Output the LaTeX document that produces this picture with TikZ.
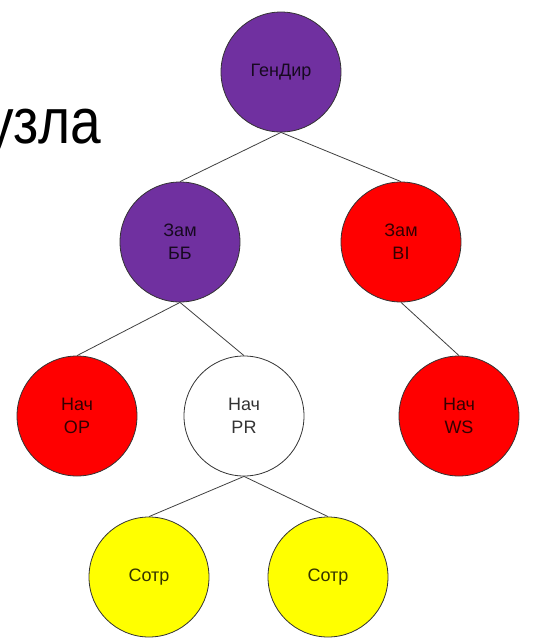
\documentclass[tikz,border=0pt]{standalone}
\usepackage{fontspec}
\setmainfont{Liberation Sans}
\begin{document}
\begin{tikzpicture}[x=1pt,y=-1pt,
  person/.style={circle, draw=black!80, line width=0.8pt, minimum size=120pt,
    inner sep=0pt, align=center, text=black, text opacity=0.8,
    font=\fontsize{18}{23}\selectfont},
  link/.style={draw=black!75, line width=0.8pt}]
\definecolor{violet}{HTML}{7030A0}
\definecolor{hot}{HTML}{FF0000}
\definecolor{lemon}{HTML}{FFFF00}
\useasboundingbox (0,0) rectangle (543,638);
% title fragment at the left edge
\node (title) [anchor=base west, inner sep=0pt, xscale=0.86,
  font=\fontsize{64}{70}\selectfont] at (-14,143) {узла};
% org chart
\node[person, fill=violet] (gd)  at (281,72)  {ГенДир};
\node[person, fill=violet] (zbb) at (180,242) {Зам\\ББ};
\node[person, fill=hot]    (zbi) at (401,242) {Зам\\BI};
\node[person, fill=hot]    (op)  at (77,416)  {Нач\\OP};
\node[person, fill=white]  (pr)  at (244,416) {Нач\\PR};
\node[person, fill=hot]    (ws)  at (459,416) {Нач\\WS};
\node[person, fill=lemon]  (s1)  at (149,577) {Сотр};
\node[person, fill=lemon]  (s2)  at (328,577) {Сотр};
\draw[link] (gd.south) -- (zbb.north);
\draw[link] (gd.south) -- (zbi.north);
\draw[link] (zbb.south) -- (op.north);
\draw[link] (zbb.south) -- (pr.north);
\draw[link] (zbi.south) -- (ws.north);
\draw[link] (pr.south) -- (s1.north);
\draw[link] (pr.south) -- (s2.north);
\end{tikzpicture}
\end{document}
